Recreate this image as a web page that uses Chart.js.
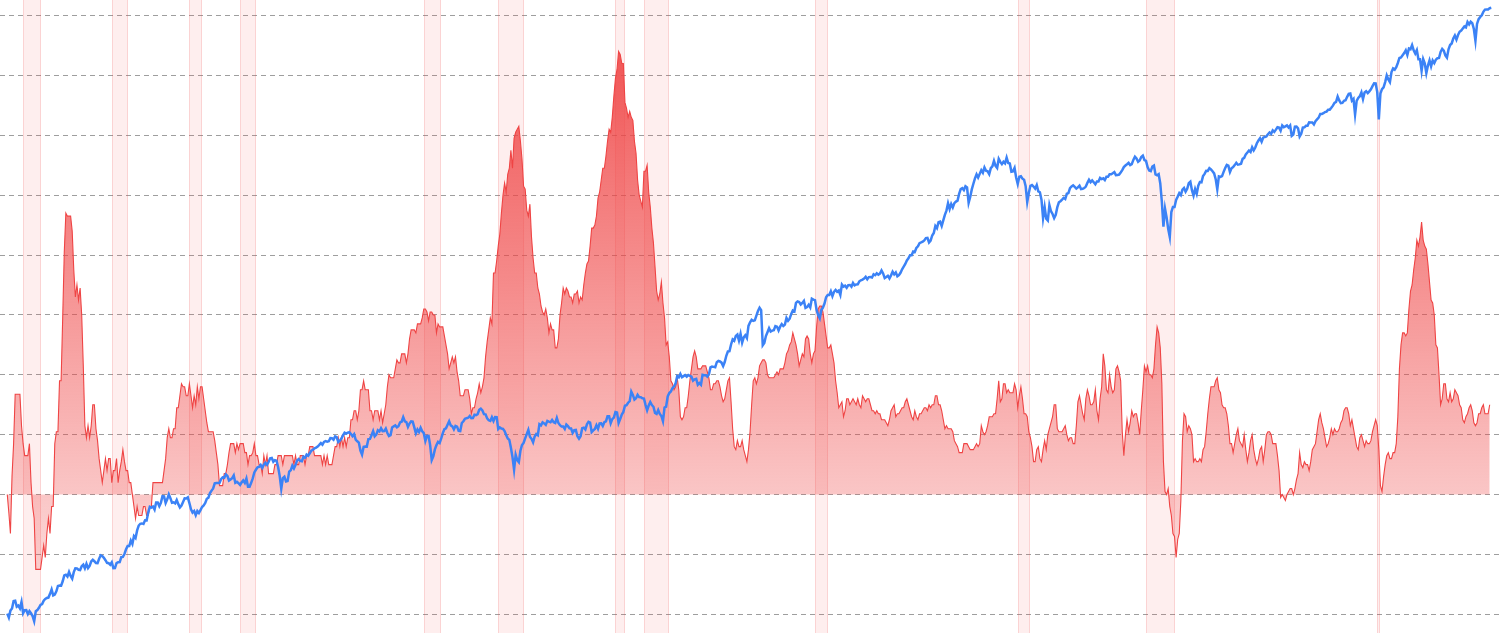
<!DOCTYPE html>
<html>
<head>
<meta charset="utf-8">
<script src="https://cdn.jsdelivr.net/npm/chart.js@4.4.1/dist/chart.umd.min.js"></script>
<style>
  html, body { margin: 0; padding: 0; background: #ffffff; }
  #wrap { width: 1500px; height: 633px; position: relative; }
</style>
</head>
<body>
<div id="wrap"><canvas id="chart"></canvas></div>
<script>
// ---------- DATA ----------
const startYear = 1948;   // first month of both series: January 1948

// US CPI inflation, year-over-year %, monthly (Jan 1948 ... Jan 2026)
const inflationYoY = [
  0, -0.6, -1.3, 0.6, 1.7, 3.35, 3.35, 3.35, 3.35, 2.3, 1.7, 1.3,
  1.3, 1.3, 1.7, 0.4, -0.4, -0.8, -2.5, -2.5, -2.5, -2.5, -2.1, -1.7,
  -2.1, -1.3, -0.8, -1.3, -0.4, -0.4, 1.7, 2.1, 2.1, 3.8, 3.8, 5.9,
  8.1, 9.4, 9.3, 9.3, 9.3, 8.8, 7.5, 6.6, 7.0, 6.5, 6.9, 6.0,
  4.3, 2.3, 1.9, 2.3, 1.9, 2.3, 3.0, 3.0, 2.2, 1.8, 1.2, 0.8,
  0.4, 0.8, 1.2, 0.8, 1.2, 1.2, 0.4, 0.8, 0.8, 1.2, 0.4, 0.8,
  1.1, 1.5, 1.1, 0.8, 0.8, 0.4, 0.4, 0.0, -0.4, -0.8, -0.4, -0.7,
  -0.7, -0.7, -0.4, -0.4, -0.7, -0.7, -0.4, -0.4, 0.4, 0.4, 0.4, 0.4,
  0.4, 0.4, 0.4, 0.8, 1.2, 1.9, 2.2, 1.9, 1.9, 2.2, 2.2, 2.9,
  2.9, 3.3, 3.7, 3.6, 3.6, 3.3, 3.3, 3.7, 3.3, 2.9, 3.3, 3.0,
  3.6, 3.2, 3.6, 3.6, 3.2, 2.8, 2.4, 2.1, 2.1, 2.1, 2.1, 1.8,
  1.4, 1.0, 0.3, 0.3, 0.3, 0.7, 0.7, 1.0, 1.4, 1.7, 1.7, 1.7,
  1.4, 1.7, 1.5, 1.7, 1.7, 1.7, 1.4, 1.4, 1.0, 1.3, 1.3, 1.4,
  1.7, 1.3, 1.3, 1.0, 1.0, 0.7, 1.3, 1.0, 1.3, 0.7, 0.7, 0.7,
  0.7, 1.0, 1.0, 1.3, 1.3, 1.3, 1.0, 1.3, 1.3, 1.3, 1.3, 1.3,
  1.3, 1.0, 1.3, 1.0, 1.0, 1.3, 1.3, 1.3, 1.0, 1.3, 1.3, 1.6,
  1.6, 1.6, 1.3, 1.3, 1.3, 1.3, 1.3, 1.0, 1.3, 1.0, 1.3, 1.0,
  1.0, 1.0, 1.3, 1.6, 1.6, 1.9, 1.6, 1.9, 1.6, 1.9, 1.6, 1.9,
  1.9, 2.5, 2.5, 2.8, 2.8, 2.5, 2.8, 3.5, 3.5, 3.8, 3.5, 3.5,
  3.5, 2.8, 2.8, 2.5, 2.8, 2.8, 2.8, 2.5, 2.8, 2.4, 2.7, 3.0,
  3.6, 4.0, 3.9, 3.9, 3.9, 4.2, 4.5, 4.4, 4.4, 4.7, 4.7, 4.7,
  4.4, 4.7, 5.2, 5.5, 5.5, 5.5, 5.4, 5.7, 5.7, 5.7, 5.9, 6.2,
  6.2, 6.1, 5.8, 6.1, 6.1, 6.0, 6.0, 5.4, 5.7, 5.6, 5.6, 5.6,
  5.3, 5.0, 4.7, 4.2, 4.4, 4.6, 4.4, 4.6, 4.1, 3.8, 3.3, 3.3,
  3.3, 3.5, 3.5, 3.5, 3.2, 2.7, 2.9, 2.9, 3.2, 3.4, 3.7, 3.4,
  3.6, 3.9, 4.6, 5.1, 5.5, 5.9, 5.7, 7.4, 7.4, 7.8, 8.3, 8.7,
  9.4, 10.0, 10.4, 10.1, 10.7, 10.9, 11.5, 10.9, 11.9, 12.1, 12.2, 12.3,
  11.8, 11.2, 10.3, 10.2, 9.5, 9.3, 9.7, 8.6, 7.9, 7.4, 7.4, 6.9,
  6.7, 6.3, 6.1, 6.0, 6.2, 5.9, 5.4, 5.7, 5.5, 5.5, 4.9, 4.9,
  5.2, 6.0, 6.4, 6.9, 6.7, 6.9, 6.8, 6.6, 6.6, 6.4, 6.7, 6.7,
  6.8, 6.4, 6.6, 6.5, 7.0, 7.4, 7.7, 7.8, 8.3, 8.9, 8.9, 9.0,
  9.3, 9.9, 10.1, 10.5, 10.9, 10.9, 11.3, 11.8, 12.2, 12.1, 12.6, 13.3,
  13.9, 14.2, 14.8, 14.7, 14.4, 14.4, 13.1, 12.9, 12.6, 12.8, 12.6, 12.5,
  11.8, 11.4, 10.5, 10.0, 9.8, 9.6, 10.8, 10.8, 11.0, 10.1, 9.6, 8.9,
  8.4, 7.6, 6.8, 6.5, 6.7, 7.1, 6.4, 5.9, 5.0, 5.1, 4.6, 3.8,
  3.7, 3.5, 3.6, 3.9, 3.5, 2.6, 2.5, 2.6, 2.9, 2.9, 3.3, 3.8,
  4.2, 4.6, 4.8, 4.6, 4.2, 4.2, 4.2, 4.3, 4.3, 4.3, 4.1, 3.9,
  3.5, 3.5, 3.7, 3.7, 3.8, 3.8, 3.6, 3.3, 3.1, 3.2, 3.5, 3.8,
  3.9, 3.1, 2.2, 1.6, 1.5, 1.8, 1.6, 1.6, 1.8, 1.5, 1.3, 1.1,
  1.5, 2.1, 3.0, 3.8, 3.9, 3.7, 3.9, 4.3, 4.4, 4.5, 4.5, 4.4,
  4.0, 3.9, 3.9, 3.9, 3.9, 4.0, 4.1, 4.0, 4.2, 4.2, 4.2, 4.4,
  4.7, 4.8, 5.0, 5.1, 5.4, 5.2, 5.0, 4.7, 4.3, 4.5, 4.7, 4.6,
  5.2, 5.3, 5.2, 4.7, 4.4, 4.7, 4.8, 5.6, 6.2, 6.3, 6.3, 6.1,
  5.7, 5.3, 4.9, 4.9, 5.0, 4.7, 4.4, 3.8, 3.4, 2.9, 3.0, 3.1,
  2.6, 2.8, 3.2, 3.2, 3.0, 3.1, 3.2, 3.1, 3.0, 3.2, 3.0, 2.9,
  3.3, 3.2, 3.1, 3.2, 3.2, 3.0, 2.8, 2.8, 2.7, 2.8, 2.7, 2.7,
  2.5, 2.5, 2.5, 2.4, 2.3, 2.5, 2.8, 2.9, 3.0, 2.6, 2.7, 2.7,
  2.8, 2.9, 2.9, 3.1, 3.2, 3.0, 2.8, 2.6, 2.5, 2.8, 2.6, 2.5,
  2.7, 2.7, 2.8, 2.9, 2.9, 2.8, 3.0, 2.9, 3.0, 3.0, 3.3, 3.3,
  3.0, 3.0, 2.8, 2.5, 2.2, 2.3, 2.2, 2.2, 2.2, 2.1, 1.8, 1.7,
  1.6, 1.4, 1.4, 1.4, 1.7, 1.7, 1.7, 1.6, 1.5, 1.5, 1.5, 1.6,
  1.7, 1.6, 1.7, 2.3, 2.1, 2.0, 2.1, 2.3, 2.6, 2.6, 2.6, 2.7,
  2.7, 3.2, 3.8, 3.1, 3.2, 3.7, 3.7, 3.4, 3.5, 3.4, 3.4, 3.4,
  3.7, 3.5, 2.9, 3.3, 3.6, 3.2, 2.7, 2.7, 2.6, 2.1, 1.9, 1.6,
  1.1, 1.1, 1.5, 1.6, 1.2, 1.1, 1.5, 1.8, 1.5, 2.0, 2.2, 2.4,
  2.6, 3.0, 3.0, 2.2, 2.1, 2.1, 2.1, 2.2, 2.3, 2.0, 1.8, 1.9,
  1.9, 1.7, 1.7, 2.3, 3.1, 3.3, 3.0, 2.7, 2.5, 3.2, 3.5, 3.3,
  3.0, 3.0, 3.1, 3.5, 2.8, 2.5, 3.2, 3.6, 4.7, 4.3, 3.5, 3.4,
  4.0, 3.6, 3.4, 3.5, 4.2, 4.3, 4.1, 3.8, 2.1, 1.3, 2.0, 2.5,
  2.1, 2.4, 2.8, 2.6, 2.7, 2.7, 2.4, 2.0, 2.8, 3.5, 4.3, 4.1,
  4.3, 4.0, 4.0, 3.9, 4.2, 5.0, 5.6, 5.4, 4.9, 3.7, 1.1, 0.1,
  0.0, 0.2, -0.4, -0.7, -1.3, -1.4, -2.1, -1.5, -1.3, -0.2, 1.8, 2.7,
  2.6, 2.1, 2.3, 2.2, 2.0, 1.1, 1.2, 1.1, 1.1, 1.2, 1.1, 1.5,
  1.6, 2.1, 2.7, 3.2, 3.6, 3.6, 3.6, 3.8, 3.9, 3.5, 3.4, 3.0,
  2.9, 2.9, 2.7, 2.3, 1.7, 1.7, 1.4, 1.7, 2.0, 2.2, 1.8, 1.7,
  1.6, 2.0, 1.5, 1.1, 1.4, 1.8, 2.0, 1.5, 1.2, 1.0, 1.2, 1.5,
  1.6, 1.1, 1.5, 2.0, 2.1, 2.1, 2.0, 1.7, 1.7, 1.7, 1.3, 0.8,
  -0.1, 0.0, -0.1, -0.2, 0.0, 0.1, 0.2, 0.2, 0.0, 0.2, 0.5, 0.7,
  1.4, 1.0, 0.9, 1.1, 1.0, 1.0, 0.8, 1.1, 1.5, 1.6, 1.7, 2.1,
  2.5, 2.7, 2.4, 2.2, 1.9, 1.6, 1.7, 1.9, 2.2, 2.0, 2.2, 2.1,
  2.1, 2.2, 2.4, 2.5, 2.8, 2.9, 2.9, 2.7, 2.3, 2.5, 2.2, 1.9,
  1.6, 1.5, 1.9, 2.0, 1.8, 1.6, 1.8, 1.7, 1.7, 1.8, 2.1, 2.3,
  2.5, 2.3, 1.5, 0.3, 0.1, 0.6, 1.0, 1.3, 1.4, 1.2, 1.2, 1.4,
  1.4, 1.7, 2.6, 4.2, 5.0, 5.4, 5.4, 5.3, 5.4, 6.2, 6.8, 7.0,
  7.5, 7.9, 8.5, 8.3, 8.6, 9.1, 8.5, 8.3, 8.2, 7.7, 7.1, 6.5,
  6.4, 6.0, 5.0, 4.9, 4.0, 3.0, 3.2, 3.7, 3.7, 3.2, 3.1, 3.4,
  3.1, 3.2, 3.5, 3.4, 3.3, 3.0, 2.9, 2.5, 2.4, 2.6, 2.7, 2.9,
  3.0, 2.8, 2.4, 2.3, 2.4, 2.7, 2.7, 2.9, 3.0, 2.7, 2.7, 2.7,
  3.0
];

// S&P 500 index level, monthly (Jan 1948 ... Feb 2026), log scale
const sp500 = [
  14.69, 14.10, 15.14, 15.48, 16.69, 16.74, 15.75, 15.94, 15.49, 16.54, 14.75, 15.20,
  15.22, 14.62, 15.06, 14.74, 14.33, 13.60, 15.04, 15.22, 15.58, 16.04, 16.19, 16.76,
  17.05, 17.22, 17.29, 17.96, 18.78, 17.69, 17.84, 18.42, 19.45, 19.53, 19.51, 20.41,
  21.66, 21.80, 21.40, 22.43, 21.52, 20.96, 22.40, 23.28, 23.26, 22.94, 22.88, 23.77,
  24.14, 23.26, 24.37, 23.32, 23.86, 24.96, 25.40, 25.03, 24.54, 24.52, 25.66, 26.57,
  26.38, 25.90, 25.29, 24.62, 24.54, 24.14, 24.75, 23.32, 23.35, 24.54, 24.76, 24.81,
  26.08, 26.15, 26.94, 28.26, 29.19, 29.21, 30.88, 29.83, 32.31, 31.68, 34.24, 35.98,
  36.63, 36.76, 36.58, 37.96, 37.91, 41.03, 43.52, 43.18, 43.67, 42.34, 45.51, 45.48,
  43.82, 45.34, 48.48, 48.38, 45.20, 46.97, 49.39, 47.51, 45.35, 45.58, 45.08, 46.67,
  44.72, 43.26, 44.11, 45.74, 47.43, 47.37, 47.91, 45.22, 42.42, 41.06, 41.72, 39.99,
  41.70, 40.84, 42.10, 43.44, 44.09, 45.24, 47.19, 47.75, 50.06, 51.33, 52.48, 55.21,
  55.42, 55.41, 55.44, 57.59, 58.68, 58.47, 60.51, 59.60, 56.88, 57.52, 58.28, 59.89,
  55.61, 56.12, 55.34, 54.37, 55.83, 56.92, 55.51, 58.07, 53.39, 53.39, 55.54, 58.11,
  61.78, 63.44, 65.06, 65.31, 66.56, 64.64, 66.76, 68.07, 66.73, 68.62, 71.32, 71.55,
  68.84, 69.96, 69.55, 65.24, 59.63, 52.32, 58.23, 59.12, 56.27, 56.52, 62.26, 63.10,
  66.20, 64.29, 66.57, 69.80, 70.80, 69.37, 69.13, 72.50, 71.70, 74.01, 73.23, 75.02,
  77.04, 77.80, 78.98, 79.46, 80.37, 81.69, 83.18, 81.83, 84.18, 84.86, 84.42, 84.75,
  87.56, 87.43, 86.16, 89.11, 88.42, 84.12, 85.25, 87.17, 89.96, 92.42, 91.61, 92.43,
  92.88, 91.22, 89.23, 91.06, 86.13, 84.74, 83.60, 77.10, 74.00, 80.20, 80.45, 80.33,
  86.61, 86.78, 90.20, 94.01, 89.08, 90.64, 94.75, 93.64, 96.71, 93.90, 94.00, 96.47,
  92.24, 89.36, 90.20, 97.59, 98.68, 99.58, 97.74, 98.86, 102.67, 103.41, 108.37, 103.86,
  103.01, 98.13, 101.51, 103.69, 103.46, 97.71, 91.83, 95.51, 93.12, 97.24, 93.81, 92.06,
  85.02, 89.50, 89.63, 81.52, 70.00, 72.72, 78.05, 81.52, 84.21, 83.25, 87.20, 92.15,
  95.88, 96.75, 100.31, 103.95, 99.63, 98.70, 95.58, 99.03, 98.34, 94.23, 93.99, 102.09,
  103.94, 106.57, 107.20, 107.67, 109.53, 107.14, 107.39, 111.09, 110.55, 111.58, 116.67, 118.05,
  116.03, 111.68, 111.52, 106.97, 104.95, 104.26, 108.22, 104.25, 108.43, 108.29, 95.96, 97.55,
  96.57, 96.22, 93.98, 90.31, 87.28, 86.00, 79.31, 72.15, 63.54, 73.90, 69.97, 68.56,
  76.98, 81.59, 83.36, 87.30, 91.15, 95.19, 88.75, 86.88, 83.87, 89.04, 91.24, 90.19,
  100.86, 99.71, 102.77, 101.64, 100.18, 104.28, 103.44, 102.91, 105.24, 102.90, 102.10, 107.46,
  102.03, 99.82, 98.42, 98.44, 96.12, 100.48, 98.85, 96.77, 96.53, 92.34, 94.83, 95.10,
  89.25, 87.04, 89.21, 96.83, 97.24, 95.53, 100.68, 103.29, 102.54, 93.15, 94.70, 96.11,
  99.93, 96.28, 101.59, 101.76, 99.08, 102.91, 103.81, 109.32, 109.32, 101.82, 106.16, 107.94,
  114.16, 113.66, 102.09, 106.29, 111.24, 114.24, 121.67, 122.38, 125.46, 127.47, 140.52, 135.76,
  129.55, 131.27, 136.00, 132.81, 132.59, 131.21, 130.92, 122.79, 116.18, 121.89, 126.35, 122.55,
  120.40, 113.11, 111.96, 116.44, 111.88, 109.61, 104.00, 119.51, 120.42, 133.71, 138.54, 140.64,
  145.30, 148.06, 152.96, 164.42, 162.39, 168.11, 162.56, 164.40, 166.07, 163.55, 166.40, 164.93,
  163.41, 157.06, 159.18, 160.05, 150.55, 153.18, 150.66, 166.68, 166.10, 166.09, 163.58, 167.24,
  179.63, 181.18, 180.66, 179.83, 189.55, 191.85, 190.92, 188.63, 182.08, 189.82, 202.17, 211.28,
  211.78, 226.92, 238.90, 235.52, 247.35, 250.84, 236.12, 252.93, 231.32, 243.98, 249.22, 242.17,
  274.08, 284.20, 291.70, 288.36, 290.10, 304.00, 318.66, 329.80, 321.83, 225.00, 230.30, 247.08,
  257.07, 267.82, 258.89, 261.33, 262.16, 273.50, 272.02, 261.52, 271.91, 278.97, 273.70, 277.72,
  297.47, 288.86, 294.87, 309.64, 320.52, 317.98, 346.08, 351.45, 349.15, 340.36, 345.99, 353.40,
  329.08, 331.89, 339.94, 330.80, 361.23, 358.02, 356.15, 322.56, 306.05, 296.00, 322.22, 330.22,
  343.93, 367.07, 375.22, 375.34, 389.83, 371.16, 387.81, 395.43, 387.86, 392.46, 375.22, 417.09,
  408.79, 412.70, 403.69, 414.95, 415.35, 408.14, 424.21, 414.03, 417.80, 418.68, 431.35, 435.71,
  438.78, 443.38, 451.67, 440.19, 450.19, 450.53, 448.13, 463.56, 458.93, 467.83, 461.79, 466.45,
  481.61, 467.14, 445.77, 450.91, 456.50, 444.27, 458.26, 475.49, 462.69, 472.35, 453.69, 459.27,
  470.42, 487.39, 500.71, 514.71, 533.40, 544.75, 562.06, 561.88, 584.41, 581.50, 605.37, 615.93,
  636.02, 640.43, 645.50, 654.17, 669.12, 670.63, 639.95, 651.99, 687.33, 705.27, 757.02, 740.74,
  786.16, 790.82, 757.12, 801.34, 848.28, 885.14, 954.29, 899.47, 947.28, 914.62, 955.40, 970.43,
  980.28, 1049.34, 1101.75, 1111.75, 1090.82, 1133.84, 1120.67, 957.28, 1017.01, 1098.67, 1163.63, 1229.23,
  1279.64, 1238.33, 1286.37, 1335.18, 1301.84, 1372.71, 1328.72, 1320.41, 1282.71, 1362.93, 1388.91, 1469.25,
  1394.46, 1366.42, 1498.58, 1452.43, 1420.60, 1454.60, 1430.83, 1517.68, 1436.51, 1429.40, 1314.95, 1320.28,
  1366.01, 1239.94, 1160.33, 1249.46, 1255.82, 1224.42, 1211.23, 1133.58, 966.00, 1059.78, 1139.45, 1148.08,
  1130.20, 1106.73, 1147.39, 1076.92, 1067.14, 989.82, 820.00, 916.07, 815.28, 800.00, 936.31, 879.82,
  855.70, 820.00, 848.18, 916.92, 963.59, 974.50, 990.31, 1008.01, 995.97, 1050.71, 1058.20, 1111.92,
  1131.13, 1144.94, 1126.21, 1107.30, 1120.68, 1140.84, 1101.72, 1104.24, 1114.58, 1130.20, 1173.82, 1211.92,
  1181.27, 1203.60, 1180.59, 1156.85, 1191.50, 1191.33, 1234.18, 1220.33, 1228.81, 1207.01, 1249.48, 1248.29,
  1280.08, 1280.66, 1294.87, 1310.61, 1270.09, 1270.20, 1276.66, 1303.82, 1335.85, 1377.94, 1400.63, 1418.30,
  1438.24, 1406.82, 1420.86, 1482.37, 1530.62, 1503.35, 1455.27, 1473.99, 1526.75, 1549.38, 1481.14, 1468.36,
  1378.55, 1330.63, 1322.70, 1385.59, 1400.38, 1280.00, 1267.38, 1282.83, 1166.36, 968.75, 752.44, 903.25,
  825.88, 735.09, 676.53, 872.81, 919.14, 919.32, 987.48, 1020.62, 1057.08, 1036.19, 1095.63, 1115.10,
  1073.87, 1104.49, 1169.43, 1186.69, 1089.41, 1030.71, 1101.60, 1049.33, 1141.20, 1183.26, 1180.55, 1257.64,
  1286.12, 1327.22, 1325.83, 1363.61, 1345.20, 1320.64, 1292.28, 1218.89, 1099.23, 1253.30, 1246.96, 1257.60,
  1312.41, 1365.68, 1408.47, 1397.91, 1310.33, 1362.16, 1379.32, 1406.58, 1440.67, 1412.16, 1416.18, 1426.19,
  1498.11, 1514.68, 1569.19, 1597.57, 1630.74, 1606.28, 1685.73, 1632.97, 1681.55, 1756.54, 1805.81, 1848.36,
  1782.59, 1859.45, 1872.34, 1883.95, 1923.57, 1960.23, 1930.67, 2003.37, 1972.29, 2018.05, 2067.56, 2058.90,
  1994.99, 2104.50, 2067.89, 2085.51, 2107.39, 2063.11, 2103.84, 1893.21, 1920.03, 2079.36, 2080.41, 2043.94,
  1880.00, 1932.23, 2059.74, 2065.30, 2096.95, 2098.86, 2173.60, 2170.95, 2168.27, 2126.15, 2198.81, 2238.83,
  2278.87, 2363.64, 2362.72, 2384.20, 2411.80, 2423.41, 2470.30, 2471.65, 2519.36, 2575.26, 2647.58, 2673.61,
  2823.81, 2713.83, 2640.87, 2648.05, 2705.27, 2718.37, 2816.29, 2901.52, 2913.98, 2711.74, 2760.17, 2351.10,
  2704.10, 2784.49, 2834.40, 2945.83, 2752.06, 2941.76, 2980.38, 2926.46, 2976.74, 3037.56, 3140.98, 3230.78,
  3225.52, 2954.22, 2237.40, 2912.43, 3044.31, 3100.29, 3271.12, 3500.31, 3363.00, 3269.96, 3621.63, 3756.07,
  3714.24, 3811.15, 3972.89, 4181.17, 4204.11, 4297.50, 4395.26, 4522.68, 4307.54, 4605.38, 4567.00, 4766.18,
  4515.55, 4373.94, 4530.41, 4131.93, 4132.15, 3666.77, 4130.29, 3955.00, 3585.62, 3871.98, 4080.11, 3839.50,
  4076.60, 3970.15, 4109.31, 4169.48, 4179.83, 4450.38, 4588.96, 4507.66, 4288.05, 4193.80, 4567.80, 4769.83,
  4845.65, 5096.27, 5254.35, 5035.69, 5277.51, 5460.48, 5522.30, 5648.40, 5762.48, 5705.45, 6032.38, 5881.63,
  6040.53, 5954.50, 5611.85, 4982.77, 5911.69, 6204.95, 6339.39, 6460.26, 6688.46, 6840.20, 6849.09, 6845.50,
  6939.03, 6965.00
];

// NBER recessions (peak month, trough month)
const recessionStart = ['1948-11','1953-07','1957-08','1960-04','1969-12','1973-11','1980-01','1981-07','1990-07','2001-03','2007-12','2020-02'];
const recessionEnd   = ['1949-10','1954-05','1958-04','1961-02','1970-11','1975-03','1980-07','1982-11','1991-03','2001-11','2009-06','2020-04'];

// Horizontal grid ticks of the inflation axis (%)
const inflationTicks = [-4, -2, 0, 2, 4, 6, 8, 10, 12, 14, 16];

// ---------- HELPERS ----------
const monthToYear = (s) => { const [y, m] = s.split('-').map(Number); return y + (m - 1) / 12; };
const monthLabels = [];
for (let i = 0; i < Math.max(inflationYoY.length, sp500.length); i++) {
  const y = startYear + Math.floor(i / 12), m = (i % 12) + 1;
  monthLabels.push(y + '-' + String(m).padStart(2, '0'));
}
const toPoints = (arr) => arr.map((v, i) => ({ x: monthToYear(monthLabels[i]), y: v }));

const RED = '#ef4444';
const BLUE = '#3b82f6';

const bandPlugin = {
  id: 'recessionBands',
  beforeDatasetsDraw(chart) {
    const { ctx, chartArea, scales } = chart;
    const x = scales.x;
    ctx.save();
    recessionStart.forEach((s, i) => {
      const x0 = Math.round(x.getPixelForValue(monthToYear(s)));
      const x1 = Math.round(x.getPixelForValue(monthToYear(recessionEnd[i])));
      ctx.fillStyle = 'rgba(239, 68, 68, 0.09)';
      ctx.fillRect(x0, chartArea.top, x1 - x0, chartArea.bottom - chartArea.top);
      ctx.strokeStyle = 'rgba(239, 68, 68, 0.16)';
      ctx.lineWidth = 1;
      ctx.beginPath();
      ctx.moveTo(x0 + 0.5, chartArea.top); ctx.lineTo(x0 + 0.5, chartArea.bottom);
      ctx.moveTo(x1 - 0.5, chartArea.top); ctx.lineTo(x1 - 0.5, chartArea.bottom);
      ctx.stroke();
    });
    ctx.restore();
  }
};

const redFill = (context) => {
  const chart = context.chart;
  const { ctx, chartArea } = chart;
  if (!chartArea) return 'rgba(239,68,68,0.4)';
  const g = ctx.createLinearGradient(0, chartArea.top, 0, chartArea.bottom);
  g.addColorStop(0, 'rgba(239, 68, 68, 0.96)');
  g.addColorStop(1, 'rgba(239, 68, 68, 0.12)');
  return g;
};

new Chart(document.getElementById('chart'), {
  type: 'line',
  data: {
    datasets: [
      {
        label: 'S&P 500',
        data: toPoints(sp500),
        yAxisID: 'yPrice',
        borderColor: BLUE,
        borderWidth: 2.5,
        pointRadius: 0,
        tension: 0,
        fill: false
      },
      {
        label: 'Inflation YoY',
        data: toPoints(inflationYoY),
        yAxisID: 'y',
        borderColor: RED,
        borderWidth: 1.1,
        pointRadius: 0,
        tension: 0,
        fill: 'origin',
        backgroundColor: redFill
      }
    ]
  },
  options: {
    responsive: true,
    maintainAspectRatio: false,
    animation: false,
    layout: { padding: 0 },
    plugins: { legend: { display: false }, tooltip: { enabled: false } },
    scales: {
      x: {
        type: 'linear',
        display: false,
        min: 1947.618,
        max: 2026.542
      },
      y: {
        type: 'linear',
        position: 'left',
        min: -4.624,
        max: 16.52,
        afterBuildTicks: (scale) => { scale.ticks = inflationTicks.map(v => ({ value: v })); },
        ticks: { display: false },
        grid: { color: 'rgba(0,0,0,0.38)', lineWidth: 1, drawTicks: false, borderDash: [5, 4] },
        border: { display: false, dash: [5, 4] }
      },
      yPrice: {
        type: 'logarithmic',
        position: 'right',
        display: false,
        min: 12.06,
        max: 7540
      }
    }
  },
  plugins: [bandPlugin]
});
</script>
</body>
</html>
